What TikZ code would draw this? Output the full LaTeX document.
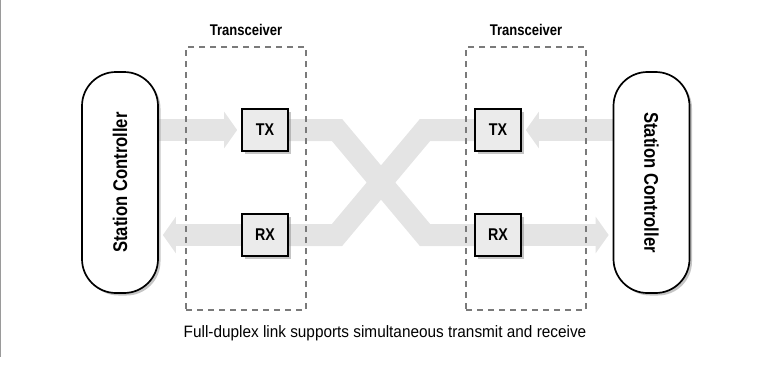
\documentclass[tikz,border=0pt]{standalone}
\usepackage{fontspec}
\setmainfont{Liberation Sans}
\newfontfamily\condfont[FakeStretch=0.84]{Liberation Sans}
\newfontfamily\notefont[FakeStretch=0.93]{Liberation Sans}
\usepackage{tikz}
\usetikzlibrary{arrows.meta,positioning,shadows,backgrounds}
\definecolor{Band}{HTML}{E4E4E4}
\definecolor{Unit}{HTML}{EBEBEB}
\definecolor{Dash}{HTML}{7A7A7A}
\definecolor{Edge}{HTML}{9A9A9A}

\tikzset{
  station/.style={draw, line width=1.7pt, fill=white, rounded corners=34pt,
    minimum width=76pt, minimum height=221pt, inner sep=0pt,
    drop shadow={shadow xshift=2.5pt, shadow yshift=-2.5pt, fill=black!45, opacity=0.5},
    font=\condfont\bfseries\fontsize{19.8}{19.8}\selectfont},
  xcvr/.style={draw=Dash, line width=1.3pt, dash pattern=on 6pt off 5pt,
    minimum width=120pt, minimum height=263pt, inner sep=0pt},
  unit/.style={draw, line width=1.7pt, fill=Unit, minimum width=46pt,
    minimum height=42pt, inner sep=0pt,
    drop shadow={shadow xshift=2.5pt, shadow yshift=-2.5pt, fill=black!45, opacity=0.5},
    font=\condfont\bfseries\fontsize{17}{17}\selectfont},
  xlabel/.style={font=\condfont\bfseries\fontsize{15.5}{15.5}\selectfont},
  band/.style={draw=Band, line width=22pt, line join=miter},
  flow/.style={band, -{Triangle[length=13pt,width=36pt]}, shorten >=4pt}
}

\begin{document}
\begin{tikzpicture}[x=1pt,y=-1pt]
  \useasboundingbox (0,0) rectangle (770,367);
  \draw[Edge, line width=1.2pt] (0.6,0) -- (0.6,357);

  % stations at either end
  \node[station] (lsc) at (120,182.5) {\rotatebox{90}{Station Controller}};
  \node[station] (rsc) at (651.5,182.5) {\rotatebox{-90}{Station Controller}};

  % transceiver frames
  \node[xcvr] (lbox) at (246,178.5) {};
  \node[xcvr] (rbox) at (526,178.5) {};
  \node[xlabel] (llab) at (246,30) {Transceiver};
  \node[xlabel] (rlab) at (526,30) {Transceiver};

  % transmit and receive units
  \node[unit] (ltx) at (265,130) {TX};
  \node[unit] (lrx) at (265,235) {RX};
  \node[unit] (rtx) at (498,130) {TX};
  \node[unit] (rrx) at (498,235) {RX};

  \begin{scope}[on background layer]
    \draw[flow] (lsc.east |- ltx.west) -- (ltx.west);
    \draw[flow] (lrx.west) -- (lsc.east |- lrx.west);
    \draw[flow] (rsc.west |- rtx.east) -- (rtx.east);
    \draw[flow] (rrx.east) -- (rsc.west |- rrx.east);
    % crossed pair between the two frames
    \draw[band] (ltx.east) -- (337,130) -- (425,235) -- (rrx.west);
    \draw[band] (rtx.west) -- (425,130) -- (337,235) -- (lrx.east);
  \end{scope}

  \node[font=\notefont\fontsize{16.5}{16.5}\selectfont] (note) at (385,333)
    {Full-duplex link supports simultaneous transmit and receive};
\end{tikzpicture}
\end{document}
